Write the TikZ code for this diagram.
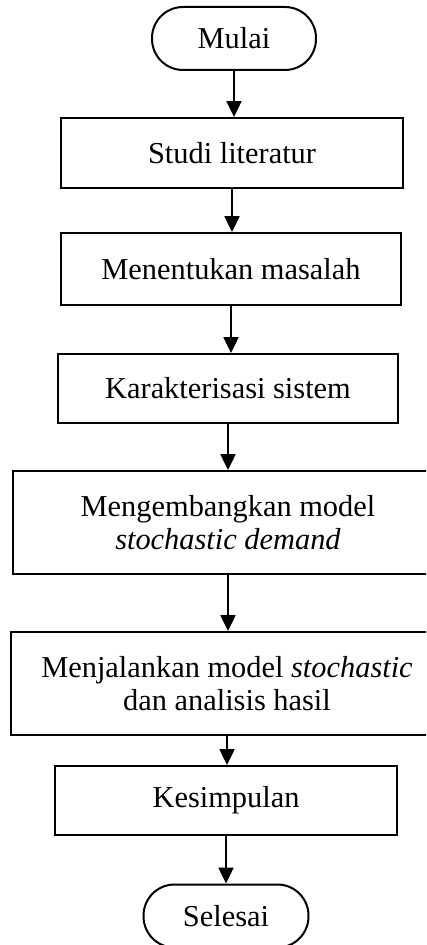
\documentclass[tikz,border=0pt]{standalone}
\usepackage{fontspec}
\setmainfont{Liberation Serif}
\usetikzlibrary{arrows.meta}

\begin{document}
\begin{tikzpicture}[x=0.02cm,y=-0.02cm]
      \clip (0,0) rectangle (426,945);
      \begin{scope}[every node/.style={draw,line width=0.04cm,inner sep=0pt,align=center,
                                       font=\fontsize{17.3}{18.5}\selectfont}]
        \node[rounded corners=0.62cm,minimum width=3.28cm,minimum height=1.26cm]
          (mulai) at (234,38.5) {Mulai};
        \node[minimum width=6.86cm,minimum height=1.4cm] (studi) at (232,153) {Studi literatur};
        \node[minimum width=6.82cm,minimum height=1.44cm] (masalah) at (231,269) {Menentukan masalah};
        \node[minimum width=6.82cm,minimum height=1.38cm] (sistem) at (228,388.5) {Karakterisasi sistem};
        \node[minimum width=8.6cm,minimum height=2.06cm] (model) at (228,522.5)
          {Mengembangkan model\\\textit{stochastic demand}};
        \node[minimum width=8.64cm,minimum height=2.06cm] (analisis) at (227,683.5)
          {Menjalankan model \textit{stochastic}\\dan analisis hasil};
        \node[minimum width=6.84cm,minimum height=1.38cm] (simpulan) at (226,800.5) {Kesimpulan};
        \node[rounded corners=0.62cm,minimum width=3.3cm,minimum height=1.26cm]
          (selesai) at (226,916) {Selesai};
      \end{scope}
      \begin{scope}[every edge/.style={draw=black,line width=0.04cm,-{Triangle[length=9pt,width=8.5pt]}}]
        \path (mulai) edge (mulai |- studi.north)
              (studi) edge (studi |- masalah.north)
              (masalah) edge (masalah |- sistem.north)
              (sistem) edge (sistem |- model.north)
              (model) edge (model |- analisis.north)
              (analisis) edge (analisis |- simpulan.north)
              (simpulan) edge (simpulan |- selesai.north);
      \end{scope}
    \end{tikzpicture}
\end{document}
